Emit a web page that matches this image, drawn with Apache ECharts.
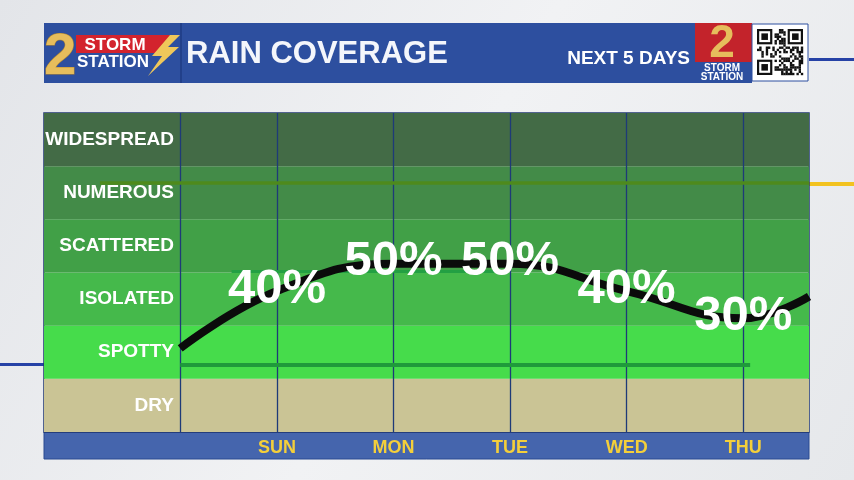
<!DOCTYPE html>
<html><head><meta charset="utf-8">
<script src="https://cdn.jsdelivr.net/npm/echarts@6/dist/echarts.min.js"></script>
<style>html,body{margin:0;padding:0;width:854px;height:480px;overflow:hidden}#c{width:854px;height:480px}</style>
</head><body><div id="c"></div>
<script>
// ---- data ----
const days = ['SUN', 'MON', 'TUE', 'WED', 'THU'];
const coverage = [40, 50, 50, 40, 30];          // % rain coverage per day
const edgeLeft = 19;                              // curve value at left edge of plot
const edgeRight = 38;                             // curve value at right edge of plot
const bands = ['DRY', 'SPOTTY', 'ISOLATED', 'SCATTERED', 'NUMEROUS', 'WIDESPREAD'];
const bandColors = ['#cac495', '#46dc4b', '#45b94b', '#41a047', '#438b48', '#436b46'];

// ---- layout constants ----
const X_MIN = -2, X_MAX = 4.565, X_DIVIDER = -0.831;
const Y_MIN = -11.7, Y_MAX = 105.3;

const linePts = [[X_DIVIDER, edgeLeft]].concat(days.map((d, i) => [i, coverage[i]])).concat([[X_MAX, edgeRight]]);
const labelPts = days.map((d, i) => [i, coverage[i]]);

// QR-like decoration
function qr() {
  const els = [];
  const x0 = 757, y0 = 29, n = 21, s = 46 / n;
  const add = (x, y, w, h, fill) => els.push({type:'rect', z:24, shape:{x:x, y:y, width:w, height:h}, style:{fill:fill}});
  const finder = (cx, cy) => {
    add(x0+cx*s, y0+cy*s, 7*s, 7*s, '#111');
    add(x0+(cx+1)*s, y0+(cy+1)*s, 5*s, 5*s, '#fff');
    add(x0+(cx+2)*s, y0+(cy+2)*s, 3*s, 3*s, '#111');
  };
  finder(0,0); finder(14,0); finder(0,14);
  let h = 7;
  for (let r = 0; r < n; r++) for (let c = 0; c < n; c++) {
    if ((r < 8 && c < 8) || (r < 8 && c > 12) || (r > 12 && c < 8)) continue;
    h = (h * 1103515245 + 12345) & 0x7fffffff;
    if ((h >> 16) % 2) add(x0+c*s, y0+r*s, s+0.2, s+0.2, '#111');
  }
  return els;
}

const FONT = 'Liberation Sans, Arial, sans-serif';
const chart = echarts.init(document.getElementById('c'), null, {renderer: 'canvas'});
const option = {
  animation: false,
  backgroundColor: {type:'linear', x:0, y:0, x2:1, y2:1, colorStops:[{offset:0, color:'#e3e5e9'},{offset:0.5, color:'#f1f2f4'},{offset:1, color:'#e6e8eb'}]},
  textStyle: {fontFamily: FONT},
  grid: {left: 44, right: 45, top: 113, bottom: 48, show: true, borderColor: '#1f3670', borderWidth: 1.5, backgroundColor: 'transparent'},
  xAxis: {
    type: 'value', min: X_MIN, max: X_MAX, interval: 1,
    axisLine: {show: false}, axisTick: {show: false}, splitLine: {show: false},
    axisLabel: {
      color: '#f4cf3a', fontWeight: 'bold', fontSize: 18, margin: 7,
      formatter: v => (Number.isInteger(v) && v >= 0 && v < days.length) ? days[v] : ''
    }
  },
  yAxis: [
    {
      type: 'category', data: bands, boundaryGap: true,
      axisLine: {show: false}, axisTick: {show: false}, splitLine: {show: false},
      splitArea: {show: true, areaStyle: {color: bandColors, opacity: 1}},
      axisLabel: {color: '#ffffff', fontWeight: 'bold', fontSize: 19, margin: -130}
    },
    {type: 'value', min: Y_MIN, max: Y_MAX, show: false}
  ],
  series: [
    {
      type: 'line', yAxisIndex: 1, data: linePts, smooth: 0.45, symbol: 'none', z: 5,
      lineStyle: {color: '#0b0b0b', width: 8},
      markLine: {
        silent: true, symbol: 'none', label: {show: false}, z: 2,
        data: [
          {xAxis: X_DIVIDER}, {xAxis: 0}, {xAxis: 1}, {xAxis: 2}, {xAxis: 3}, {xAxis: 4}
        ],
        lineStyle: {color: '#1e3a78', width: 1.3, type: 'solid'}
      }
    },
    {
      type: 'line', yAxisIndex: 1, data: [], z: 3,
      markLine: {
        silent: true, symbol: 'none', label: {show: false},
        lineStyle: {type: 'solid'},
        data: [
          [{coord: [X_DIVIDER, 12.8], lineStyle: {color: '#1f9a3b', width: 4, type: 'solid'}}, {coord: [4.06, 12.8]}],
          [{coord: [-1.52, 79.8], lineStyle: {color: '#4e8a1c', width: 3.5, type: 'solid'}}, {coord: [X_MAX, 79.8]}],
          [{coord: [-0.39, 47.2], lineStyle: {color: '#23a043', width: 3, type: 'solid'}}, {coord: [1.9, 47.2]}]
        ]
      }
    },
    {
      type: 'scatter', yAxisIndex: 1, data: labelPts, symbolSize: 0, z: 10,
      itemStyle: {opacity: 1},
      emphasis: {disabled: true},
      label: {
        show: true, position: 'inside', offset: [0, -2], opacity: 1,
        formatter: p => p.value[1] + '%',
        color: '#ffffff', fontWeight: 'bold', fontSize: 49, fontFamily: FONT
      }
    }
  ],
  graphic: [
    // bottom axis bar
    {type:'rect', z:-5, shape:{x:44, y:432, width:765, height:27}, style:{fill:'#4565ad', stroke:'#2a4a90', lineWidth:1}},
    // decorative background lines
    {type:'rect', z:-5, shape:{x:0, y:363, width:44, height:3}, style:{fill:'#2642a6'}},
    {type:'rect', z:-5, shape:{x:809, y:182, width:45, height:4}, style:{fill:'#f2c21f'}},
    {type:'rect', z:-5, shape:{x:809, y:58, width:45, height:3}, style:{fill:'#2642a6'}},
    // header bar
    {type:'rect', z:20, shape:{x:44, y:23, width:652, height:60}, style:{fill:'#2d4f9f'}},
    {type:'rect', z:21, shape:{x:180, y:23, width:2, height:60}, style:{fill:'#22408a'}},
    {type:'text', z:22, style:{x:186, y:54, text:'RAIN COVERAGE', fill:'#f4f6fb', font:'bold 31px ' + FONT, verticalAlign:'middle', textAlign:'left'}},
    {type:'text', z:22, style:{x:690, y:59, text:'NEXT 5 DAYS', fill:'#ffffff', font:'bold 19px ' + FONT, verticalAlign:'middle', textAlign:'right'}},
    // left logo
    {type:'polygon', z:22, shape:{points:[[76,35],[170,35],[162,53],[76,53]]}, style:{fill:'#d3232d'}},
    {type:'text', z:23, style:{x:44, y:58, text:'2', fill:'#e6bd5c', stroke:'#b8892c', lineWidth:1, font:'bold 58px ' + FONT, verticalAlign:'middle', textAlign:'left'}},
    {type:'text', z:24, style:{x:115, y:45, text:'STORM', fill:'#ffffff', font:'bold 17px ' + FONT, verticalAlign:'middle', textAlign:'center'}},
    {type:'text', z:24, style:{x:113, y:62, text:'STATION', fill:'#ffffff', font:'bold 17px ' + FONT, verticalAlign:'middle', textAlign:'center'}},
    {type:'polygon', z:24, shape:{points:[[170,35],[152,56],[162,56],[148,76],[179,47],[168,47],[180,35]]}, style:{fill:'#efc75a'}},
    // right logo box
    {type:'rect', z:22, shape:{x:695, y:23, width:57, height:60}, style:{fill:'#c3232b'}},
    {type:'rect', z:22, shape:{x:695, y:62, width:57, height:21}, style:{fill:'#2d4f9f'}},
    {type:'text', z:23, style:{x:722, y:44, text:'2', fill:'#e6bd5c', font:'bold 46px ' + FONT, verticalAlign:'middle', textAlign:'center'}},
    {type:'text', z:23, style:{x:722, y:68, text:'STORM', fill:'#ffffff', font:'bold 10px ' + FONT, verticalAlign:'middle', textAlign:'center'}},
    {type:'text', z:23, style:{x:722, y:77, text:'STATION', fill:'#ffffff', font:'bold 10px ' + FONT, verticalAlign:'middle', textAlign:'center'}},
    // QR box
    {type:'rect', z:22, shape:{x:752, y:24, width:56, height:57}, style:{fill:'#ffffff', stroke:'#2d4f9f', lineWidth:1}}
  ].concat(qr())
};
chart.setOption(option);
</script>
</body></html>
